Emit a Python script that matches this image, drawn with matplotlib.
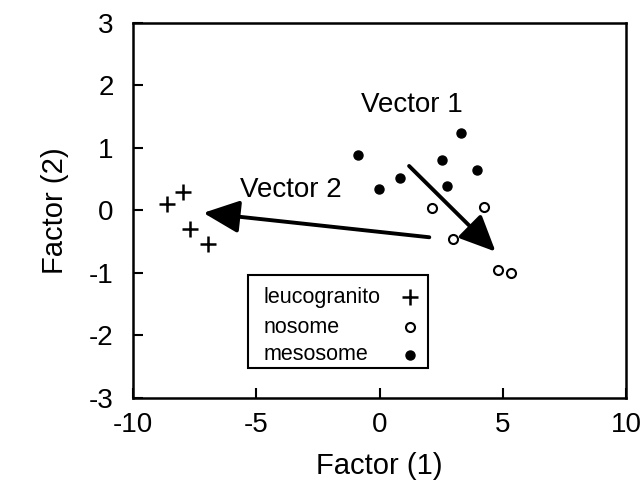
import matplotlib.pyplot as plt
from matplotlib.patches import Rectangle

plt.rcParams['font.family'] = ['Liberation Sans', 'DejaVu Sans']
plt.rcParams['axes.unicode_minus'] = False

# factor scores per rock type
leuco_x = [-8.63, -7.96, -7.69, -6.95]
leuco_y = [0.10, 0.30, -0.30, -0.54]

nosome_x = [2.12, 4.25, 2.97, 4.80, 5.33]
nosome_y = [0.04, 0.06, -0.46, -0.96, -1.00]

meso_x = [-0.86, -0.01, 0.83, 2.55, 2.75, 3.29, 3.94]
meso_y = [0.89, 0.34, 0.52, 0.81, 0.39, 1.24, 0.64]

# vectors: (start, end)
vec1 = [(1.20, 0.71), (4.71, -0.66)]
vec2 = [(2.02, -0.43), (-7.15, -0.04)]

fig = plt.figure(figsize=(6.4, 4.95), dpi=100)
ax = fig.add_axes([0.208, 0.196, 0.770, 0.758])

styles = {
    'leucogranito': dict(marker='+', color='black', ms=11, mew=1.8, ls='none'),
    'nosome': dict(marker='o', mfc='white', mec='black', ms=6.5, mew=1.5, ls='none'),
    'mesosome': dict(marker='o', color='black', ms=6.5, ls='none'),
}
ax.plot(leuco_x, leuco_y, **styles['leucogranito'])
ax.plot(nosome_x, nosome_y, **styles['nosome'])
ax.plot(meso_x, meso_y, **styles['mesosome'])

for start, end in [vec1, vec2]:
    ax.annotate('', xy=end, xytext=start,
                arrowprops=dict(arrowstyle='-|>,head_length=2.2,head_width=1.0',
                                color='black', lw=2.8, shrinkA=0, shrinkB=0))

ax.text(1.33, 1.69, 'Vector 1', fontsize=20, ha='center', va='center')
ax.text(-3.59, 0.33, 'Vector 2', fontsize=20, ha='center', va='center')

ax.set_xlim(-10, 10)
ax.set_ylim(-3, 3)
ax.set_xticks([-10, -5, 0, 5, 10])
ax.set_yticks([-3, -2, -1, 0, 1, 2, 3])
ax.tick_params(direction='in', length=7, width=1.5, labelsize=20)
ax.tick_params(axis='x', pad=10)
ax.tick_params(axis='y', pad=14)
for s in ax.spines.values():
    s.set_linewidth(1.8)

ax.set_xlabel('Factor (1)', fontsize=21, labelpad=10)
ax.set_ylabel('Factor (2)', fontsize=21, labelpad=14)

# legend box: name on the left, marker on the right
ax.add_patch(Rectangle((0.233, 0.08), 0.365, 0.248, transform=ax.transAxes,
                       fill=False, edgecolor='black', lw=1.5, clip_on=False))
rows_y = [0.269, 0.189, 0.115]
for name, ry in zip(styles, rows_y):
    ax.text(0.264, ry, name, transform=ax.transAxes, fontsize=15.5,
            ha='left', va='center')
    ax.plot([0.562], [ry], transform=ax.transAxes, clip_on=False, **styles[name])

fig.savefig('out.png', dpi=100)
